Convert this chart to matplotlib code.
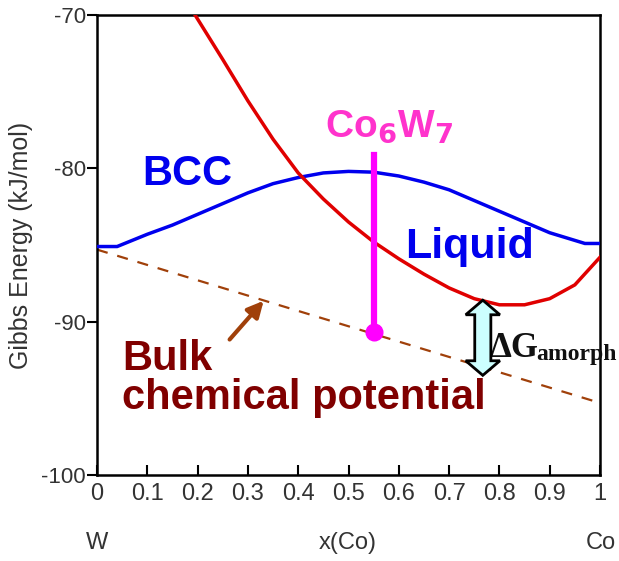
import numpy as np
import matplotlib.pyplot as plt

# BCC free energy curve
bcc_x = [0.0, 0.04, 0.1, 0.15, 0.2, 0.25, 0.3, 0.35, 0.4, 0.45, 0.5, 0.55, 0.6, 0.65,
         0.7, 0.75, 0.8, 0.85, 0.9, 0.97, 1.0]
bcc_g = [-85.1, -85.1, -84.3, -83.7, -83.0, -82.3, -81.6, -81.0, -80.6, -80.3, -80.2, -80.25,
         -80.5, -80.9, -81.4, -82.1, -82.8, -83.5, -84.2, -84.9, -84.9]

# Liquid free energy curve
liq_x = [0.195, 0.25, 0.3, 0.35, 0.4, 0.45, 0.5, 0.55, 0.6, 0.65, 0.7, 0.75, 0.8, 0.85,
         0.9, 0.95, 1.0]
liq_g = [-70.0, -72.9, -75.6, -78.1, -80.3, -82.0, -83.5, -84.8, -85.9, -86.9, -87.8, -88.5,
         -88.9, -88.9, -88.5, -87.6, -85.8]

# bulk chemical potential (common tangent)
mu_x = [0.0, 0.99]
mu_g = [-85.3, -95.2]

# Co6W7 compound
cw_x = 0.55
cw_top = -79.1
cw_g = -90.7

# Delta G amorph arrow: x position and energy span
dg_x = 0.767
dg_top = -88.6
dg_bot = -93.5

xticks = [0, 0.1, 0.2, 0.3, 0.4, 0.5, 0.6, 0.7, 0.8, 0.9, 1]
xticklabels = ['0', '0.1', '0.2', '0.3', '0.4', '0.5', '0.6', '0.7', '0.8', '0.9', '1']
yticks = [-100, -90, -80, -70]

plt.rcParams['font.family'] = ['Liberation Sans', 'DejaVu Sans']

fig = plt.figure(figsize=(6.19, 5.61), dpi=100)
ax = fig.add_axes([97 / 619, 86 / 561, 503 / 619, 460 / 561])

ax.plot(bcc_x, bcc_g, color='#0000ee', lw=2.5, zorder=3)
ax.plot(liq_x, liq_g, color='#e00000', lw=2.5, zorder=3)
ax.plot(mu_x, mu_g, color='#a0400a', lw=1.6, dashes=(5, 4.5), zorder=2)

ax.plot([cw_x, cw_x], [cw_top, cw_g], color='#ff00ff', lw=4.5, zorder=4)
ax.plot([cw_x], [cw_g], 'o', color='#ff00ff', ms=12, zorder=5)

ax.text(0.58, -77.3, 'Co$_\\mathbf{6}$W$_\\mathbf{7}$', color='#ff33cc', fontsize=28,
        fontweight='bold', ha='center', va='center')
ax.text(0.18, -80.4, 'BCC', color='#0000ee', fontsize=30, fontweight='bold',
        ha='center', va='center')
ax.text(0.612, -85.1, 'Liquid', color='#0000ee', fontsize=31, fontweight='bold',
        ha='left', va='center')
ax.text(0.05, -93.7, 'Bulk\nchemical potential', color='#800000', fontsize=30,
        fontweight='bold', ha='left', va='center', linespacing=0.95)

ax.annotate('', xy=(0.335, -88.5), xytext=(0.26, -91.3),
            arrowprops=dict(arrowstyle='-|>', color='#a0400a', lw=3, mutation_scale=24))

# double headed fat arrow built from its width parameters
shaft = 0.016
head = 0.034
head_len = 0.95
px = [dg_x, dg_x + head, dg_x + shaft, dg_x + shaft, dg_x + head, dg_x,
      dg_x - head, dg_x - shaft, dg_x - shaft, dg_x - head]
py = [dg_top, dg_top - head_len, dg_top - head_len, dg_bot + head_len, dg_bot + head_len,
      dg_bot, dg_bot + head_len, dg_bot + head_len, dg_top - head_len, dg_top - head_len]
ax.fill(px, py, facecolor='#ccffff', edgecolor='black', lw=2, zorder=6)

ax.text(0.781, -92.3, '\u0394G', fontsize=25, family='Liberation Serif', fontweight='bold',
        color='#111111', ha='left', va='baseline')
ax.text(0.873, -92.5, 'amorph', fontsize=17, family='Liberation Serif', fontweight='bold',
        color='#111111', ha='left', va='baseline')

ax.set_xlim(0, 1)
ax.set_ylim(-100, -70)
ax.set_xticks(xticks)
ax.set_xticklabels(xticklabels, fontsize=17, color='#333333')
ax.set_yticks(yticks)
ax.set_yticklabels([str(v) for v in yticks], fontsize=16, color='#333333')
ax.tick_params(axis='x', direction='in', length=7, width=1.5, pad=6)
ax.tick_params(axis='y', direction='out', length=7, width=1.5, pad=1)
for s in ax.spines.values():
    s.set_linewidth(1.8)

ax.set_ylabel('Gibbs Energy (kJ/mol)', fontsize=18, color='#333333', labelpad=6)
fig.text(97 / 619, 18 / 561, 'W', fontsize=17, color='#333333', ha='center', va='center')
fig.text(348 / 619, 18 / 561, 'x(Co)', fontsize=17, color='#333333', ha='center', va='center')
fig.text(601 / 619, 18 / 561, 'Co', fontsize=17, color='#333333', ha='center', va='center')

fig.savefig('out.png', dpi=100)
